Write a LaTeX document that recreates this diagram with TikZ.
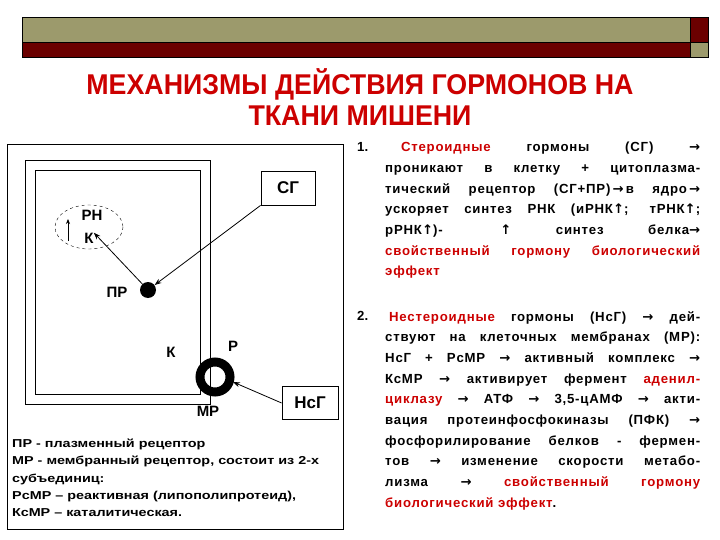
\documentclass[tikz,border=0pt]{standalone}
\usepackage{fontspec}
\setmainfont{Liberation Sans}
\newfontfamily\djv{DejaVu Sans}
\newfontfamily\bodyf[LetterSpace=6]{Liberation Sans}
\usetikzlibrary{arrows.meta}
\definecolor{olivebar}{HTML}{9C9A6C}
\definecolor{darkbar}{HTML}{6B0000}
\definecolor{titlered}{HTML}{CC0000}
\definecolor{txtred}{HTML}{CC0000}
\newcommand{\rd}[1]{\textcolor{txtred}{#1}}
\newcommand{\ra}{{\djv\bfseries →}}
\newcommand{\ua}{{\djv\bfseries ↑}}
\begin{document}
\begin{tikzpicture}[x=1pt,y=-1pt,
  lab/.style={font=\bfseries\fontsize{15}{17}\selectfont, inner sep=0pt},
  hbox/.style={draw, thick, font=\bfseries\fontsize{17}{19}\selectfont, inner sep=0pt},
  arr/.style={-{Stealth[length=7pt,width=5pt]}, line width=0.8pt},
  body/.style={anchor=north west, inner sep=0pt, text width=315pt, align=justify,
     font=\bodyf\bfseries\fontsize{13.2}{20.7}\selectfont}]
\useasboundingbox (0,0) rectangle (720,540);
% top bar
\fill[olivebar] (22,17) rectangle (690,42);
\fill[darkbar] (22,42) rectangle (690,57);
\fill[darkbar] (690,17) rectangle (708,42);
\fill[olivebar] (690,42) rectangle (708,57);
\draw[line width=0.6pt] (22,17) rectangle (708,57);
\draw[line width=0.6pt] (22,42) -- (708,42) (690,17) -- (690,57);
% title
\node[titlered, font=\bfseries\fontsize{26}{31}\selectfont, align=center] (title) at (360,97) {\scalebox{1.03}[1.1]{МЕХАНИЗМЫ ДЕЙСТВИЯ ГОРМОНОВ НА}\\\scalebox{1.03}[1.1]{ТКАНИ МИШЕНИ}};
% left panel
\draw[line width=1pt] (7,145) rectangle (343,529);
\draw (25,160) rectangle (210,404);
\draw (35,170) rectangle (200,394);
\node[hbox, minimum width=54pt, minimum height=34pt] (sg) at (288,188) {СГ};
\node[hbox, minimum width=56pt, minimum height=33pt] (nsg) at (310,403) {НсГ};
\draw[dashed, thin] (89,227) ellipse (34 and 22);
\node[lab] (rn) at (92,215) {РН};
\node[lab] (k1) at (89,238) {К};
\coordinate (upb) at (68,241);
\coordinate (upt) at (68,219);
\draw[-{Stealth[length=5pt,width=4pt]}, line width=0.8pt] (upb) -- (upt);
\node[circle, fill=black, minimum size=16pt, inner sep=0pt] (pr) at (148,290) {};
\node[lab] (prl) at (117,292) {ПР};
\node[lab] (kl) at (171,352) {К};
\node[lab] (rl) at (233,346) {Р};
\node[circle, draw, line width=9pt, minimum size=30pt, inner sep=0pt] (mr) at (215,377) {};
\node[lab] (mrl) at (208,411) {МР};
\draw[arr] (sg.south west) -- (pr);
\draw[arr] (pr) -- (k1.north east);
\draw[arr] (nsg.west) -- (233,382);
\node[anchor=north west, inner sep=0pt, align=left, font=\bfseries\fontsize{11.5}{17.2}\selectfont] (leg) at (12,439) {\scalebox{1.25}[1]{ПР - плазменный рецептор}\\\scalebox{1.25}[1]{МР - мембранный рецептор, состоит из 2-х}\\\scalebox{1.25}[1]{субъединиц:}\\\scalebox{1.25}[1]{РсМР – реактивная (липополипротеид),}\\\scalebox{1.25}[1]{КсМР – каталитическая.}};
% right text
\node[anchor=north west, inner sep=0pt, font=\bfseries\fontsize{13.2}{20.7}\selectfont] (n1) at (357,142) {1.};
\node[body] (t1) at (385,142) {\hspace*{1.2em}\rd{Стероидные} гормоны (СГ) \ra\linebreak проникают в клетку + цитоплазма-\linebreak тический рецептор (СГ+ПР)\,\ra\,в ядро\,\ra\linebreak ускоряет синтез РНК (иРНК\ua; тРНК\ua;\linebreak рРНК\ua)- \quad \ua\ синтез белка\ra\linebreak \rd{свойственный гормону биологический}\linebreak \rd{эффект}};
\node[anchor=north west, inner sep=0pt, font=\bfseries\fontsize{13.2}{20.7}\selectfont] (n2) at (357,311) {2.};
\node[body] (t2) at (385,311) {\hspace*{0.3em}\rd{Нестероидные} гормоны (НсГ) \ra\ дей-\linebreak ствуют на клеточных мембранах (МР):\linebreak НсГ + РсМР \ra\ активный комплекс \ra\linebreak КсМР \ra\ активирует фермент \rd{аденил-}\linebreak \rd{циклазу} \ra\ АТФ \ra\ 3,5-цАМФ \ra\ акти-\linebreak вация протеинфосфокиназы (ПФК) \ra\linebreak фосфорилирование белков - фермен-\linebreak тов \ra\ изменение скорости метабо-\linebreak лизма \ra\ \rd{свойственный} \rd{гормону}\linebreak \rd{биологический эффект}.};
\end{tikzpicture}
\end{document}
